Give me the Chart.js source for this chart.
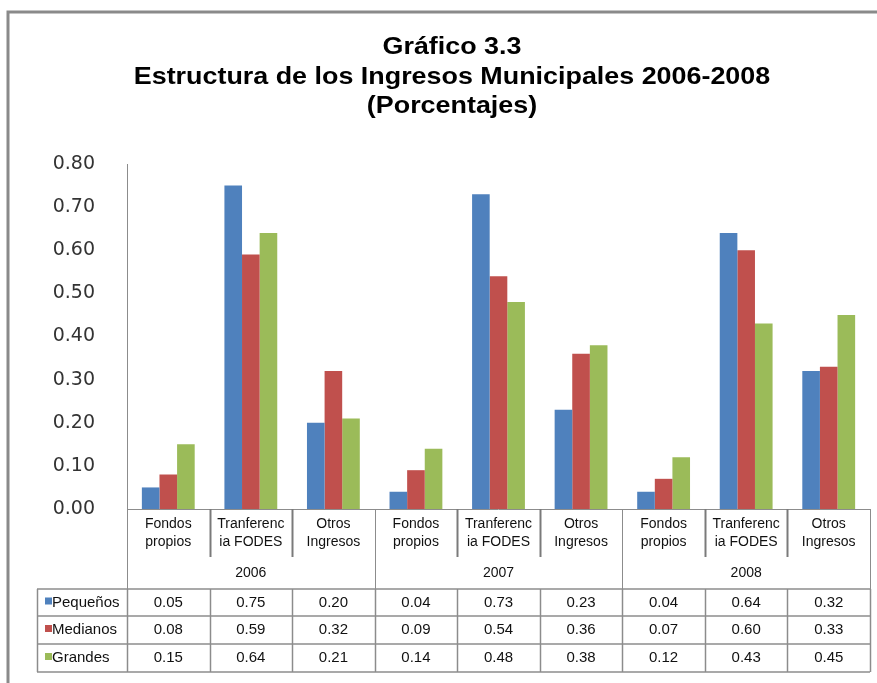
<!DOCTYPE html>
<html><head><meta charset="utf-8">
<script src="https://cdn.jsdelivr.net/npm/chart.js@4"></script>
<style>html,body{margin:0;padding:0;background:#fff}#wrap{width:877px;height:683px;position:relative}</style>
</head><body><div id="wrap"><canvas id="c" width="877" height="683"></canvas></div>
<script>
const titleLines = ["Gráfico 3.3", "Estructura de los Ingresos Municipales 2006-2008", "(Porcentajes)"];
const years = ["2006", "2007", "2008"];
const subCats = [["Fondos","propios"], ["Tranferenc","ia FODES"], ["Otros","Ingresos"]];
const categories = ["Fondos propios 2006","Tranferencia FODES 2006","Otros Ingresos 2006","Fondos propios 2007","Tranferencia FODES 2007","Otros Ingresos 2007","Fondos propios 2008","Tranferencia FODES 2008","Otros Ingresos 2008"];
const seriesNames = ["Pequeños", "Medianos", "Grandes"];
const pequenos = [0.05, 0.75, 0.20, 0.04, 0.73, 0.23, 0.04, 0.64, 0.32];
const medianos = [0.08, 0.59, 0.32, 0.09, 0.54, 0.36, 0.07, 0.60, 0.33];
const grandes  = [0.15, 0.64, 0.21, 0.14, 0.48, 0.38, 0.12, 0.43, 0.45];
const yTicks = [0, 0.1, 0.2, 0.3, 0.4, 0.5, 0.6, 0.7, 0.8];
const colors = ["#4F81BD", "#C0504D", "#9BBB59"];

const LINE = "#8c8c8c";
const overlay = {
  id: 'overlay',
  afterDraw(chart) {
    const ctx = chart.ctx, xs = chart.scales.x, ca = chart.chartArea;
    const n = categories.length;
    const cw = (ca.right - ca.left) / n;
    const edge = i => ca.left + i * cw;
    ctx.save();
    // outer frame
    ctx.strokeStyle = "#8a8a8a"; ctx.lineWidth = 3;
    ctx.beginPath(); ctx.moveTo(8, 700); ctx.lineTo(8, 12); ctx.lineTo(900, 12); ctx.stroke();
    // title
    ctx.fillStyle = "#000"; ctx.textAlign = "center"; ctx.textBaseline = "middle";
    ctx.font = "bold 24px 'Liberation Sans', Arial, sans-serif";
    const ty = [47, 77, 106];
    titleLines.forEach((t, i) => {
      ctx.save(); ctx.translate(452, ty[i]); ctx.scale(1.12, 1); ctx.fillText(t, 0, 0); ctx.restore();
    });
    // axes
    ctx.strokeStyle = LINE; ctx.lineWidth = 1;
    ctx.beginPath();
    ctx.moveTo(ca.left + 0.5, ca.top); ctx.lineTo(ca.left + 0.5, 589);
    ctx.moveTo(ca.left, ca.bottom + 0.5); ctx.lineTo(ca.right, ca.bottom + 0.5);
    ctx.stroke();
    // category dividers
    for (let i = 1; i <= n; i++) {
      const x = Math.round(edge(i)) + 0.5;
      ctx.beginPath();
      if (i % 3 === 0) { ctx.strokeStyle = LINE; ctx.lineWidth = 1; ctx.moveTo(x, ca.bottom); ctx.lineTo(x, 589); }
      else { ctx.strokeStyle = "#7a7a7a"; ctx.lineWidth = 2; ctx.moveTo(x, ca.bottom); ctx.lineTo(x, 557); }
      ctx.stroke();
    }
    // category labels
    ctx.fillStyle = "#111"; ctx.font = "14px 'Liberation Sans', Arial, sans-serif";
    for (let i = 0; i < n; i++) {
      const cx = xs.getPixelForValue(i);
      const lab = subCats[i % 3];
      ctx.fillText(lab[0], cx, 524);
      ctx.fillText(lab[1], cx, 542);
    }
    years.forEach((y, g) => {
      ctx.fillText(y, (edge(g * 3) + edge(g * 3 + 3)) / 2, 573);
    });
    // table
    const rowsY = [589, 616, 644, 672];
    const tLeft = 37;
    ctx.strokeStyle = LINE; ctx.lineWidth = 1.5;
    rowsY.forEach(y => { ctx.beginPath(); ctx.moveTo(tLeft, y); ctx.lineTo(ca.right, y); ctx.stroke(); });
    const vx = [tLeft];
    for (let i = 0; i <= n; i++) vx.push(edge(i));
    vx.forEach(x => { ctx.beginPath(); ctx.moveTo(Math.round(x) + 0.5, 589); ctx.lineTo(Math.round(x) + 0.5, 672); ctx.stroke(); });
    const series = [pequenos, medianos, grandes];
    ctx.font = "15px 'Liberation Sans', Arial, sans-serif";
    series.forEach((s, r) => {
      const cy = (rowsY[r] + rowsY[r + 1]) / 2;
      ctx.fillStyle = colors[r];
      ctx.fillRect(45, cy - 5, 7, 7);
      ctx.fillStyle = "#111"; ctx.textAlign = "left";
      ctx.fillText(seriesNames[r], 52, cy);
      ctx.textAlign = "center";
      s.forEach((v, i) => ctx.fillText(v.toFixed(2), xs.getPixelForValue(i), cy));
    });
    ctx.restore();
  }
};

new Chart(document.getElementById('c'), {
  type: 'bar',
  data: {
    labels: categories,
    datasets: [
      { label: seriesNames[0], data: pequenos, backgroundColor: colors[0] },
      { label: seriesNames[1], data: medianos, backgroundColor: colors[1] },
      { label: seriesNames[2], data: grandes, backgroundColor: colors[2] }
    ]
  },
  options: {
    responsive: false, animation: false,
    layout: { padding: { top: 164, left: 0, right: 7, bottom: 0 } },
    datasets: { bar: { barPercentage: 1, categoryPercentage: 0.64 } },
    plugins: { legend: { display: false }, tooltip: { enabled: false }, title: { display: false } },
    scales: {
      x: {
        ticks: { display: false },
        grid: { display: false },
        border: { display: false },
        afterFit: s => { s.height = 174; }
      },
      y: {
        min: 0, max: 0.8,
        afterBuildTicks: s => { s.ticks = yTicks.map(v => ({ value: v })); },
        ticks: {
          padding: 24,
          color: "#333",
          font: { family: "'DejaVu Sans', sans-serif", size: 19 },
          callback: v => Number(v).toFixed(2)
        },
        grid: { display: false },
        border: { display: false },
        afterFit: s => { s.width = 127; }
      }
    }
  },
  plugins: [overlay]
});
</script></body></html>
